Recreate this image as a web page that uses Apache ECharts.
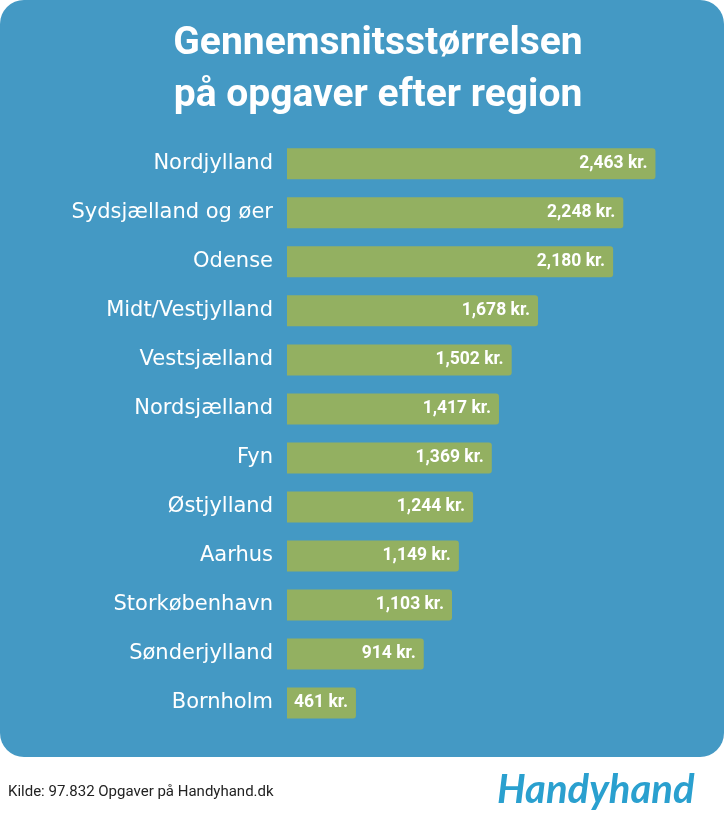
<!DOCTYPE html>
<html>
<head>
<meta charset="utf-8">
<script src="https://cdn.jsdelivr.net/npm/echarts@6/dist/echarts.min.js"></script>
<style>
  html, body { margin: 0; padding: 0; background: #ffffff; }
  #chart { width: 724px; height: 822px; }
</style>
</head>
<body>
<div id="chart"></div>
<script>
// regioner og gennemsnitlig opgavestørrelse (kr.)
const regions = ['Nordjylland', 'Sydsjælland og øer', 'Odense', 'Midt/Vestjylland', 'Vestsjælland',
  'Nordsjælland', 'Fyn', 'Østjylland', 'Aarhus', 'Storkøbenhavn', 'Sønderjylland', 'Bornholm']
const avgSize = [2463, 2248, 2180, 1678, 1502, 1417, 1369, 1244, 1149, 1103, 914, 461]

const chart = echarts.init(document.getElementById('chart'))

const option = {
  backgroundColor: '#ffffff',
  title: {
    text: 'Gennemsnitsstørrelsen\npå opgaver efter region',
    left: 373,
    top: 13,
    textAlign: 'center',
    textStyle: {
      color: '#ffffff',
      fontFamily: 'Roboto',
      fontWeight: 'bold',
      fontSize: 39,
      lineHeight: 52
    }
  },
  graphic: [
    {
      type: 'rect',
      z: -10,
      silent: true,
      shape: { x: 0, y: 0, width: 724, height: 757, r: 24 },
      style: { fill: '#4499c4' }
    },
    {
      type: 'text',
      left: 8,
      top: 785,
      style: {
        text: 'Kilde: 97.832 Opgaver på Handyhand.dk',
        fill: '#222222',
        font: '15px Roboto'
      }
    },
    {
      type: 'text',
      left: 497,
      top: 770,
      style: {
        text: 'Handyhand',
        fill: '#2aa0cf',
        font: 'italic bold 40px Lato'
      }
    }
  ],
  grid: {
    left: 287,
    right: 63,
    top: 139.3,
    bottom: 94.5
  },
  xAxis: {
    type: 'value',
    min: 0,
    max: 2500,
    show: false
  },
  yAxis: {
    type: 'category',
    data: regions,
    inverse: true,
    axisLine: { show: false },
    axisTick: { show: false },
    axisLabel: {
      color: '#ffffff',
      fontFamily: 'DejaVu Sans',
      fontSize: 21,
      margin: 14
    }
  },
  series: [
    {
      type: 'bar',
      data: avgSize,
      barWidth: 31,
      itemStyle: {
        color: '#93b061',
        borderRadius: [0, 3, 3, 0]
      },
      label: {
        show: true,
        position: 'insideRight',
        distance: 8,
        color: '#ffffff',
        fontFamily: 'Roboto',
        fontWeight: 'bold',
        fontSize: 17.5,
        formatter: function (p) {
          return p.value.toLocaleString('en-US') + ' kr.'
        }
      }
    }
  ]
}

chart.setOption(option)
</script>
</body>
</html>
